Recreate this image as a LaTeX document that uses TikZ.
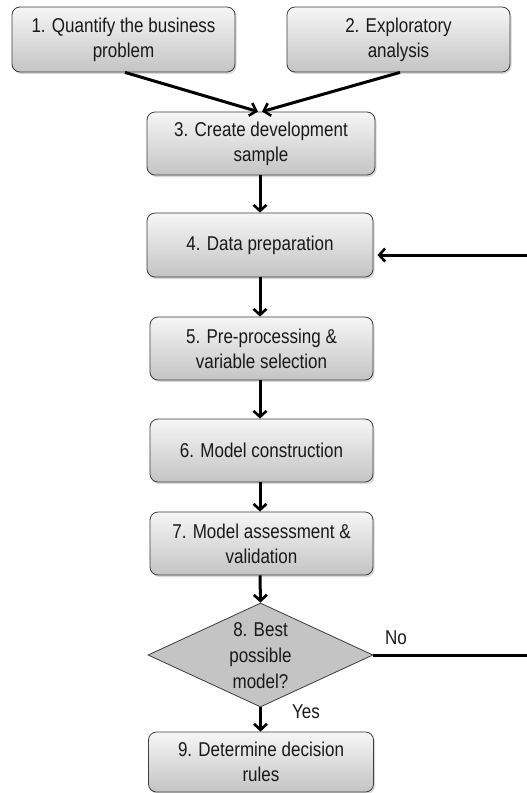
\documentclass[tikz,border=0pt]{standalone}
\usepackage{fontspec}
\setmainfont{Liberation Sans}[FakeStretch=0.85]
\usetikzlibrary{arrows.meta,shapes.geometric,shadows,calc}
\definecolor{boxtop}{RGB}{246,246,246}
\definecolor{boxbot}{RGB}{196,196,196}
\definecolor{boxline}{RGB}{60,60,60}
\definecolor{diafill}{RGB}{196,196,196}
\definecolor{txtcol}{RGB}{25,25,25}
\begin{document}
\begin{tikzpicture}[x=1pt,y=-1pt,
  stepbox/.style={rectangle, rounded corners=8pt, draw=boxline, line width=0.8pt,
    top color=boxtop, bottom color=boxbot, align=center, text=txtcol,
    font=\fontsize{20}{25}\selectfont, inner sep=0pt,
    drop shadow={shadow xshift=1.5pt, shadow yshift=-2pt, opacity=0.3}},
  decbox/.style={diamond, draw=boxline, line width=0.8pt, fill=diafill, inner sep=0pt,
    minimum width=225pt, minimum height=104pt},
  txt/.style={align=center, font=\fontsize{20}{26}\selectfont, inner sep=0pt, text=txtcol},
  lbl/.style={font=\fontsize{20}{24}\selectfont, inner sep=0pt, text=txtcol},
  arr/.style={-{Straight Barb[length=6pt,width=13pt,line width=2.6pt]}, line width=3pt, black},
  ln/.style={line width=3pt, black}]
\useasboundingbox (0,0) rectangle (527,793);
\node[stepbox, minimum width=223pt, minimum height=65pt] (b1) at (123.5,39.5) {1. Quantify the business\\problem};
\node[stepbox, minimum width=223pt, minimum height=65pt] (b2) at (398.5,39.5) {2. Exploratory\\analysis};
\node[stepbox, minimum width=228pt, minimum height=63pt] (b3) at (261,143.5) {3. Create development\\sample};
\node[stepbox, minimum width=226pt, minimum height=64pt] (b4) at (260,245) {4. Data preparation};
\node[stepbox, minimum width=223pt, minimum height=63pt] (b5) at (261.5,348.5) {5. Pre-processing \&\\variable selection};
\node[stepbox, minimum width=223pt, minimum height=63pt] (b6) at (261.5,450.5) {6. Model construction};
\node[stepbox, minimum width=223pt, minimum height=63pt] (b7) at (261.5,543.5) {7. Model assessment \&\\validation};
\node[decbox] (d8) at (260.5,655) {};
\node[txt] (d8t) at (260.5,656) {8. Best\\possible\\model?};
\node[stepbox, minimum width=225pt, minimum height=60pt] (b9) at (261,762) {9. Determine decision\\rules};
\coordinate (rin) at (527,255);
\coordinate (rout) at (527,655);
\draw[arr] ([xshift=1.5pt]b1.south) -- ([xshift=-3pt]b3.north);
\draw[arr] ([xshift=1.5pt]b2.south) -- ([xshift=1pt]b3.north);
\draw[arr] ([xshift=-1pt]b3.south) -- (b4.north);
\draw[arr] (b4.south) -- ([xshift=-1.5pt]b5.north);
\draw[arr] ([xshift=-1.5pt]b5.south) -- ([xshift=-1.5pt]b6.north);
\draw[arr] ([xshift=-1.5pt]b6.south) -- ([xshift=-1.5pt]b7.north);
\draw[arr] ([xshift=-1.5pt]b7.south) -- (d8.north);
\draw[arr] (d8.south) -- ([xshift=-0.5pt]b9.north);
\draw[ln] (d8.east) -- (rout);
\draw[arr, shorten >=4pt] (rin) -- (rin -| b4.east);
\node[lbl, anchor=west] (no) at (385,638) {No};
\node[lbl, anchor=west] (yes) at (292,712) {Yes};
\end{tikzpicture}
\end{document}
